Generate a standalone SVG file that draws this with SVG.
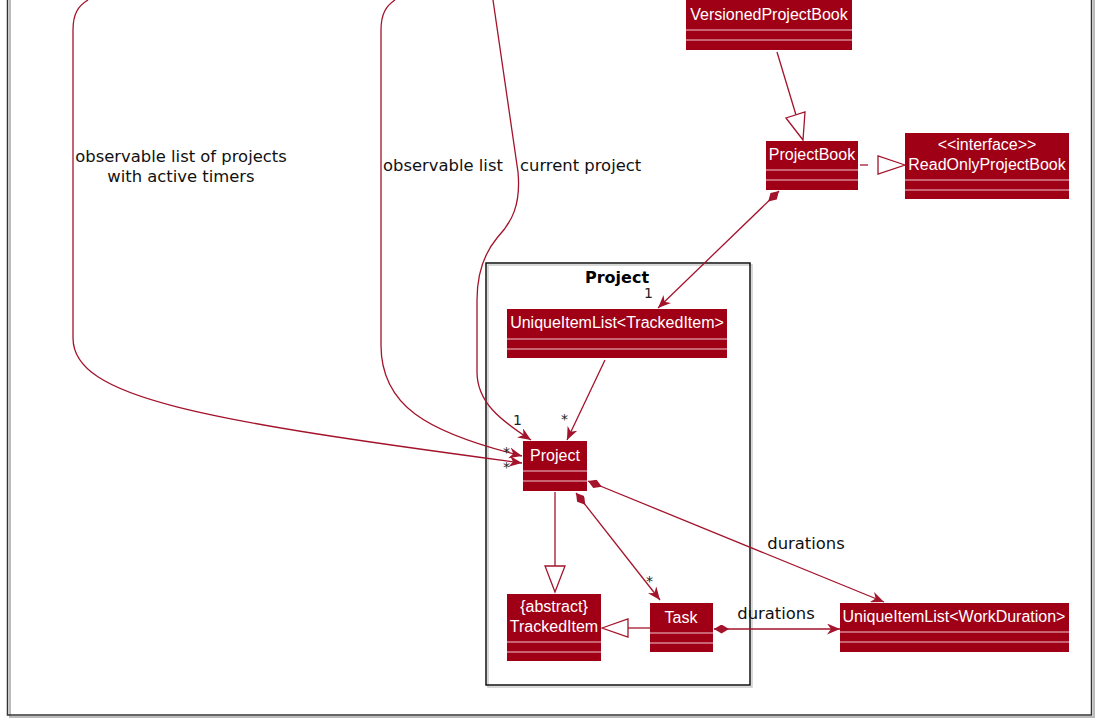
<svg xmlns="http://www.w3.org/2000/svg" width="1116" height="718" viewBox="0 0 1116 718">
<style>
.box{fill:#A00016;}
.sep{stroke:#F0C8CF;stroke-width:1;}
.cn{font-family:"Liberation Sans",Arial,sans-serif;font-size:16px;fill:#FFFFFF;text-anchor:middle;}
.lbl{font-family:"DejaVu Sans",Verdana,sans-serif;font-size:16.4px;fill:#111;}
.mult{font-family:"DejaVu Sans",Verdana,sans-serif;font-size:14px;fill:#222;}
.ln{fill:none;stroke:#A3132B;stroke-width:1.3;}
.tri{fill:#FFFFFF;stroke:#A3132B;stroke-width:1.3;}
</style>
<defs>
<marker id="arr" markerUnits="userSpaceOnUse" viewBox="0 0 13 11" refX="13" refY="5.5" markerWidth="13" markerHeight="11" orient="auto">
<path d="M0,0 L13,5.5 L0,11 L4,5.5 Z" fill="#A3132B"/>
</marker>
<marker id="dia" markerUnits="userSpaceOnUse" viewBox="0 0 15 9" refX="0" refY="4.5" markerWidth="15" markerHeight="9" orient="auto">
<path d="M0,4.5 L7.5,0 L15,4.5 L7.5,9 Z" fill="#A3132B"/>
</marker>
</defs>
<rect x="0" y="0" width="1116" height="718" fill="#FFFFFF"/>
<g id="frame">
<rect x="10" y="-18" width="1084" height="735" fill="none" stroke="#BBBBBB" stroke-width="2"/>
<rect x="7.5" y="-20" width="1084" height="735" fill="none" stroke="#333333" stroke-width="1.5"/>
</g>
<g id="pkg-Project">
<rect x="488" y="265" width="264" height="422" fill="none" stroke="#CCCCCC" stroke-width="1.5"/>
<rect x="486" y="263" width="264" height="422" fill="none" stroke="#111111" stroke-width="1.5"/>
<text x="617" y="283" font-family="DejaVu Sans,Verdana,sans-serif" font-size="16" font-weight="bold" text-anchor="middle" fill="#000">Project</text>
</g>
<g id="connectors">
<line class="ln" x1="777" y1="52" x2="796" y2="115"/>
<polygon class="tri" points="803,140 786,118 805,112"/>
<line class="ln" x1="860" y1="165" x2="868" y2="165"/>
<polygon class="tri" points="905,165 878,156 878,174"/>
<line class="ln" x1="779" y1="191" x2="658" y2="308" marker-start="url(#dia)" marker-end="url(#arr)"/>
<text class="mult" x="644" y="298">1</text>
<line class="ln" x1="605" y1="360" x2="567" y2="440" marker-end="url(#arr)"/>
<text class="mult" x="561" y="424">*</text>
<path class="ln" d="M88,0 C78,6 73,14 73,30 L73,338 C73,398 200,420 522,463" marker-end="url(#arr)"/>
<text class="mult" x="503" y="472">*</text>
<path class="ln" d="M395,0 C386,6 381,14 381,30 L381,345 C381,405 425,432 522,456" marker-end="url(#arr)"/>
<text class="mult" x="503" y="457">*</text>
<path class="ln" d="M493,0 L518,172 C521,205 512,222 497,238 C482,256 477,276 477,300 L477,372 C477,402 500,420 531,440" marker-end="url(#arr)"/>
<text class="mult" x="513" y="425">1</text>
<line class="ln" x1="555" y1="492" x2="555" y2="566"/>
<polygon class="tri" points="555,592 545,566 565,566"/>
<line class="ln" x1="576" y1="493" x2="660" y2="600" marker-start="url(#dia)" marker-end="url(#arr)"/>
<text class="mult" x="646" y="586">*</text>
<line class="ln" x1="588" y1="481" x2="884" y2="602" marker-start="url(#dia)" marker-end="url(#arr)"/>
<text class="lbl" x="806" y="549" text-anchor="middle">durations</text>
<line class="ln" x1="650" y1="628" x2="628" y2="628"/>
<polygon class="tri" points="602,628 628,619 628,637"/>
<line class="ln" x1="714" y1="629" x2="840" y2="629" marker-start="url(#dia)" marker-end="url(#arr)"/>
<text class="lbl" x="776" y="619" text-anchor="middle">durations</text>
<text class="lbl" x="181" y="162" text-anchor="middle">observable list of projects</text>
<text class="lbl" x="181" y="182" text-anchor="middle">with active timers</text>
<text class="lbl" x="383" y="171">observable list</text>
<text class="lbl" x="520" y="171">current project</text>
</g>
<g id="VersionedProjectBook">
<rect class="box" x="686" y="-2" width="166" height="52"/>
<line class="sep" x1="686" y1="30" x2="852" y2="30"/>
<line class="sep" x1="686" y1="40" x2="852" y2="40"/>
<text class="cn" x="769" y="20">VersionedProjectBook</text>
</g>
<g id="ProjectBook">
<rect class="box" x="766" y="141" width="92" height="49"/>
<line class="sep" x1="766" y1="170" x2="858" y2="170"/>
<line class="sep" x1="766" y1="180" x2="858" y2="180"/>
<text class="cn" x="812" y="160">ProjectBook</text>
</g>
<g id="ReadOnlyProjectBook">
<rect class="box" x="905" y="133" width="164" height="66"/>
<line class="sep" x1="905" y1="180" x2="1069" y2="180"/>
<line class="sep" x1="905" y1="190" x2="1069" y2="190"/>
<text class="cn" x="987" y="150">&lt;&lt;interface&gt;&gt;</text>
<text class="cn" x="987" y="170">ReadOnlyProjectBook</text>
</g>
<g id="UniqueItemList-TrackedItem">
<rect class="box" x="507" y="309" width="220" height="49"/>
<line class="sep" x1="507" y1="339" x2="727" y2="339"/>
<line class="sep" x1="507" y1="349" x2="727" y2="349"/>
<text class="cn" x="617" y="328">UniqueItemList&lt;TrackedItem&gt;</text>
</g>
<g id="Project">
<rect class="box" x="523" y="441" width="64" height="50"/>
<line class="sep" x1="523" y1="471" x2="587" y2="471"/>
<line class="sep" x1="523" y1="481" x2="587" y2="481"/>
<text class="cn" x="555" y="461">Project</text>
</g>
<g id="TrackedItem">
<rect class="box" x="507" y="594" width="94" height="67"/>
<line class="sep" x1="507" y1="642" x2="601" y2="642"/>
<line class="sep" x1="507" y1="652" x2="601" y2="652"/>
<text class="cn" x="554" y="612">{abstract}</text>
<text class="cn" x="554" y="632">TrackedItem</text>
</g>
<g id="Task">
<rect class="box" x="650" y="603" width="63" height="49"/>
<line class="sep" x1="650" y1="633" x2="713" y2="633"/>
<line class="sep" x1="650" y1="643" x2="713" y2="643"/>
<text class="cn" x="681" y="623">Task</text>
</g>
<g id="UniqueItemList-WorkDuration">
<rect class="box" x="840" y="603" width="229" height="49"/>
<line class="sep" x1="840" y1="632" x2="1069" y2="632"/>
<line class="sep" x1="840" y1="642" x2="1069" y2="642"/>
<text class="cn" x="954" y="622">UniqueItemList&lt;WorkDuration&gt;</text>
</g>
</svg>
